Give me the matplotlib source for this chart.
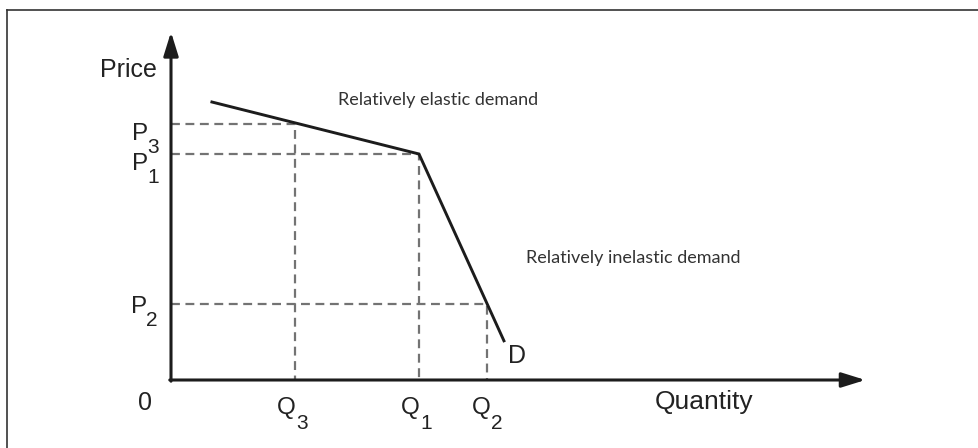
import matplotlib
matplotlib.use("Agg")
from matplotlib import pyplot as plt
from matplotlib.lines import Line2D

# demand curve (kinked), arbitrary units
demand_q = [0.66, 4.0, 5.37]
demand_p = [6.95, 5.65, 0.98]

# price / quantity levels
price_names = ["3", "1", "2"]
price_vals = [6.4, 5.65, 1.9]
qty_names = ["3", "1", "2"]
qty_vals = [2.0, 4.0, 5.1]

x_max = 11.2
y_max = 8.7

W, H = 979, 448
fig = plt.figure(figsize=(W / 100, H / 100), dpi=100)
ax = fig.add_axes([171 / W, 68 / H, x_max * 62 / W, y_max * 40 / H])
ax.set_xlim(0, x_max)
ax.set_ylim(0, y_max)
ax.axis("off")

# frame bits (top + left) of the original picture
fig.add_artist(Line2D([7 / W, 1], [1 - 10 / H, 1 - 10 / H], color="#333333", lw=1.2))
fig.add_artist(Line2D([7 / W, 7 / W], [0, 1 - 10 / H], color="#333333", lw=1.2))

axcol = "#1c1c1c"
arrow = dict(arrowstyle="-|>,head_length=0.9,head_width=0.28", lw=2.2, color=axcol,
             mutation_scale=16, shrinkA=0, shrinkB=0)
ax.annotate("", xy=(x_max, 0), xytext=(-0.02, 0), arrowprops=arrow, annotation_clip=False)
ax.annotate("", xy=(0, y_max), xytext=(0, -0.03), arrowprops=arrow, annotation_clip=False)

# dashed guides
for p, q in zip(price_vals, qty_vals):
    ax.plot([0, q, q], [p, p, 0], color="#737373", lw=1.6, dashes=(4, 2.5), zorder=1)

# demand
ax.plot(demand_q, demand_p, color=axcol, lw=2.1, zorder=3, solid_joinstyle="miter")

lab = dict(color="#222222", family=["Liberation Sans", "DejaVu Sans"])

def label(xy, letter, sub, dx, dy, sdx, sdy):
    ax.annotate(letter, xy=xy, xytext=(dx, dy), textcoords="offset pixels",
                ha="center", va="baseline", fontsize=17.5, annotation_clip=False, **lab)
    ax.annotate(sub, xy=xy, xytext=(sdx, sdy), textcoords="offset pixels",
                ha="center", va="baseline", fontsize=15, annotation_clip=False, **lab)

for name, p in zip(price_names, price_vals):
    if name == "2":
        label((0, p), "P", name, -32, -9, -19, -22)
    else:
        label((0, p), "P", name, -31, -16, -18, -29)

for name, q in zip(qty_names, qty_vals):
    if name == "2":
        label((q, 0), "Q", name, -6, -34, 10, -49)
    else:
        label((q, 0), "Q", name, -9, -34, 7, -49)

ax.text(-0.68, 7.575, "Price", ha="center", va="baseline", fontsize=18, **lab)
ax.text(-0.42, -0.75, "0", ha="center", va="baseline", fontsize=18, **lab)
ax.text(8.6, -0.725, "Quantity", ha="center", va="baseline", fontsize=19, **lab)
ax.text(5.58, 0.425, "D", ha="center", va="baseline", fontsize=18, **lab)

note = dict(color="#333333", fontsize=13, ha="center", va="baseline",
            family=["Liberation Sans Narrow", "Lato", "DejaVu Sans"])
ax.text(4.31, 6.875, "Relatively elastic demand", **note)
ax.text(7.46, 2.925, "Relatively inelastic demand", **note)

fig.savefig("out.png", dpi=100)
